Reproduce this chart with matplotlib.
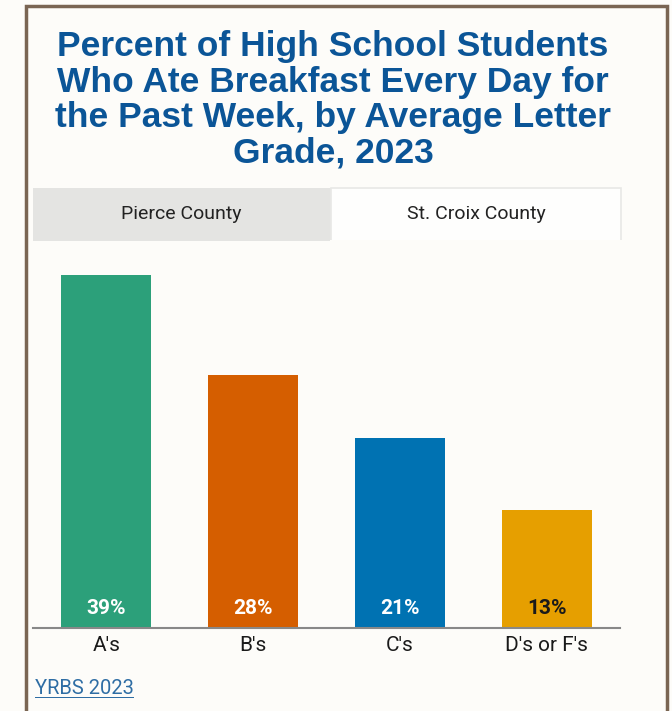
import matplotlib.pyplot as plt
from matplotlib.patches import Rectangle

grades = ["A's", "B's", "C's", "D's or F's"]
percent = [39, 28, 21, 13]
bar_colors = ["#2CA07A", "#D55E00", "#0072B2", "#E69F00"]
label_colors = ["white", "white", "white", "#1a1a1a"]
tabs = ["Pierce County", "St. Croix County"]

W, H = 672, 711
fig = plt.figure(figsize=(W / 100, H / 100), dpi=100)
fig.patch.set_facecolor("#FDFCF9")


def fx(px):
    return px / W


def fy(py):
    return 1 - py / H


# outer frame
fig.patches.append(Rectangle((fx(26), fy(716)), fx(641), 710 / H, transform=fig.transFigure,
                             fill=False, edgecolor="#7A6553", linewidth=2.5))

title = ("Percent of High School Students\nWho Ate Breakfast Every Day for\n"
         "the Past Week, by Average Letter\nGrade, 2023")
fig.text(fx(333), fy(100), title, ha="center", va="center", color="#0B5597",
         fontsize=25.5, fontweight="bold", family="Liberation Sans", linespacing=1.1)

# county tabs
fig.patches.append(Rectangle((fx(33), fy(241)), fx(298), 53 / H, transform=fig.transFigure,
                             facecolor="#E4E4E2", edgecolor="none"))
fig.patches.append(Rectangle((fx(331), fy(241)), fx(290), 53 / H, transform=fig.transFigure,
                             facecolor="#FEFEFD", edgecolor="#E8E8E6", linewidth=1.2))
fig.patches.append(Rectangle((fx(330), fy(243)), fx(292), 3 / H, transform=fig.transFigure,
                             facecolor="#FDFCF9", edgecolor="none"))
fig.text(fx(181), fy(214), tabs[0], ha="center", va="center", fontsize=14,
         family="Roboto", color="#222222")
fig.text(fx(476), fy(214), tabs[1], ha="center", va="center", fontsize=14,
         family="Roboto", color="#222222")

# bar chart
ax = fig.add_axes([fx(33), fy(628), fx(587), 378 / H])
ax.set_facecolor("none")
x = range(len(grades))
ax.bar(x, percent, width=0.612, color=bar_colors)
ax.set_xlim(-0.5, 3.5)
ax.set_ylim(0, 378 / 9.05)
for i, v in enumerate(percent):
    ax.text(i, 1.1, f"{v}%", ha="center", va="bottom", color=label_colors[i],
            fontsize=15, fontweight="bold", family="Roboto")
ax.set_xticks(list(x))
ax.set_xticklabels(grades, fontsize=15, family="Roboto", color="#1a1a1a")
ax.tick_params(axis="x", length=0, pad=6)
ax.set_yticks([])
for s in ["top", "left", "right"]:
    ax.spines[s].set_visible(False)
ax.spines["bottom"].set_color("#888888")
ax.spines["bottom"].set_linewidth(1.5)

src = fig.text(fx(35), fy(688), "YRBS 2023", ha="left", va="center", fontsize=14.5,
               family="Roboto", color="#2E6DA4")
fig.canvas.draw()
bb = src.get_window_extent()
fig.patches.append(Rectangle((bb.x0 / W, fy(698)), bb.width / W, 1.2 / H,
                             transform=fig.transFigure, facecolor="#2E6DA4", edgecolor="none"))

fig.savefig("out.png", dpi=100, facecolor=fig.get_facecolor())
